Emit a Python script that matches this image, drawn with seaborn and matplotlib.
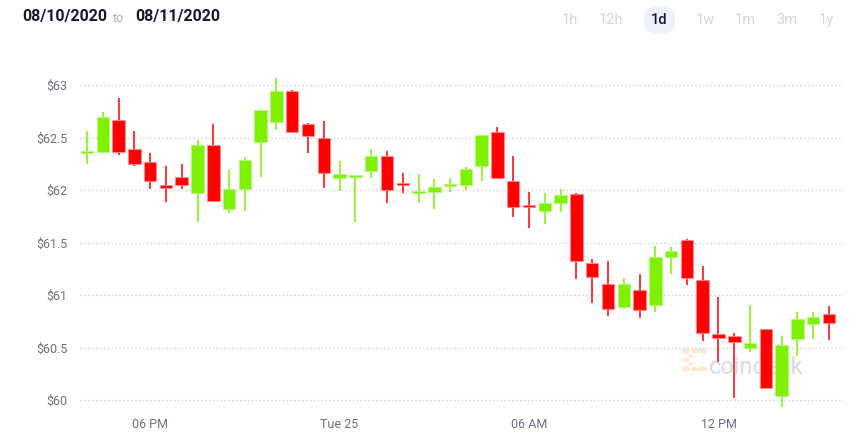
import matplotlib
matplotlib.use("Agg")
import matplotlib.pyplot as plt
import seaborn as sns
import numpy as np
import pandas as pd
from matplotlib.patches import FancyBboxPatch, Circle
from matplotlib.transforms import Affine2D

# ---- data (30-minute candles, 4 PM Aug 10 -> 3:30 PM Aug 11) ----
opens = [62.35, 62.365, 62.67, 62.387, 62.264, 62.044, 62.127, 61.968, 62.426, 61.815,
         62.013, 62.46, 62.648, 62.946, 62.629, 62.50, 62.114, 62.12, 62.178, 62.324,
         62.062, 61.975, 61.98, 62.035, 62.048, 62.225, 62.552, 62.086, 61.857, 61.80,
         61.873, 61.965, 61.308, 61.105, 60.883, 61.044, 60.905, 61.36, 61.52, 61.143,
         60.629, 60.606, 60.50, 60.676, 60.041, 60.578, 60.724, 60.822]
highs = [62.56, 62.745, 62.876, 62.56, 62.35, 62.23, 62.25, 62.476, 62.625, 62.19,
         62.31, 62.76, 63.07, 62.95, 62.64, 62.657, 62.28, 62.14, 62.387, 62.37,
         62.16, 62.152, 62.105, 62.114, 62.219, 62.524, 62.603, 62.324, 61.98, 61.968,
         62.01, 61.97, 61.34, 61.32, 61.16, 61.20, 61.47, 61.46, 61.533, 61.276,
         60.978, 60.635, 60.908, 60.68, 60.61, 60.835, 60.838, 60.90]
lows = [62.25, 62.35, 62.336, 62.23, 62.01, 61.889, 62.007, 61.70, 61.898, 61.78,
        61.80, 62.127, 62.571, 62.545, 62.35, 62.016, 61.99, 61.70, 62.11, 61.873,
        61.975, 61.879, 61.816, 61.98, 62.0, 62.089, 62.105, 61.74, 61.64, 61.68,
        61.787, 61.15, 60.927, 60.80, 60.864, 60.778, 60.84, 61.197, 61.10, 60.565,
        60.359, 60.022, 60.46, 60.115, 59.93, 60.42, 60.578, 60.571]
closes = [62.36, 62.70, 62.365, 62.245, 62.089, 62.019, 62.044, 62.43, 61.898, 62.01,
          62.286, 62.76, 62.946, 62.55, 62.51, 62.16, 62.152, 62.128, 62.327, 62.0,
          62.047, 61.982, 62.03, 62.057, 62.197, 62.524, 62.11, 61.835, 61.835, 61.873,
          61.952, 61.32, 61.175, 60.864, 61.108, 60.854, 61.365, 61.42, 61.162, 60.641,
          60.587, 60.552, 60.546, 60.117, 60.527, 60.775, 60.787, 60.736]

y_ticks = [60, 60.5, 61, 61.5, 62, 62.5, 63]
y_labels = ["$60", "$60.5", "$61", "$61.5", "$62", "$62.5", "$63"]
x_tick_pos = [4, 16, 28, 40]
x_labels = ["06 PM", "Tue 25", "06 AM", "12 PM"]
range_buttons = ["1h", "12h", "1d", "1w", "1m", "3m", "1y"]

df = pd.DataFrame({"open": opens, "high": highs, "low": lows, "close": closes})
df["idx"] = np.arange(len(df))
df["up"] = df["close"] >= df["open"]

GREEN = "#7ef000"
RED = "#ff0000"

sns.set_theme(style="white")
plt.rcParams["font.family"] = ["Roboto", "DejaVu Sans"]

W, H = 864, 437
fig = plt.figure(figsize=(W / 100, H / 100), dpi=100)
fig.patch.set_facecolor("white")

# pixel transform (origin top-left, y downwards)
pix = Affine2D().scale(1, -1).translate(0, H) + Affine2D()

ax_left, ax_right, ax_top, ax_bot = 80, 843, 60, 410
ax = fig.add_axes([ax_left / W, 1 - ax_bot / H, (ax_right - ax_left) / W, (ax_bot - ax_top) / H])
ax.set_facecolor("none")

cols = [GREEN if u else RED for u in df["up"]]

# wicks
ax.vlines(df["idx"], df["low"], df["high"], colors=cols, linewidth=1.3, alpha=0.85, zorder=2)
# bodies
bottoms = np.minimum(df["open"], df["close"])
heights = np.maximum(np.abs(df["close"] - df["open"]), 0.02)
ax.bar(df["idx"], heights, bottom=bottoms, width=0.79, color=cols,
       edgecolor=[(1, 0.55, 0.55, 0.8) if not u else (0.7, 0.97, 0.5, 0.8) for u in df["up"]],
       linewidth=0.8, zorder=3)

ax.set_xlim(-0.443, 47.887)
ax.set_ylim(60 - 10 / 105, 63 + 25 / 105)

ax.set_yticks(y_ticks)
ax.set_yticklabels(y_labels)
ax.set_xticks(x_tick_pos)
ax.set_xticklabels(x_labels)
ax.tick_params(axis="y", length=0, pad=9, labelsize=9, labelcolor="#6b7080")
ax.tick_params(axis="x", length=0, pad=6, labelsize=9, labelcolor="#6b7080")
for s in ax.spines.values():
    s.set_visible(False)
ax.grid(False)
for yt in y_ticks:
    ax.axhline(yt, color="#d3d8e4", linewidth=1.0, linestyle=(0, (1.2, 1.6)), zorder=1)

def fx(px):
    return px / W

def fy(py):
    return 1 - py / H

# watermark (behind candles)
wm_col = "#d9dbe2"
logo_col = "#fde9cc"
ax.text(fx(709), fy(368), "coindesk", transform=fig.transFigure, fontsize=17,
        color=wm_col, va="center", ha="left", zorder=0.5, clip_on=False)
for (cx, cy, r) in [(686, 351, 3.6), (686, 360, 3.2), (686, 369, 3.6), (695, 351, 3.2),
                    (703, 351, 3.6), (695, 369, 3.2), (703, 369, 3.6),
                    (691, 356, 1.8), (691, 364, 1.8)]:
    ax.add_artist(Circle((fx(cx), fy(cy)), r / W, transform=fig.transFigure,
                         color=logo_col, zorder=0.5, clip_on=False))

# header
fig.text(fx(22), fy(17), "08/10/2020", fontsize=11.5, fontweight="bold", color="#141a2e",
         va="center", ha="left")
fig.text(fx(113), fy(18), "to", fontsize=9, color="#a8adb8", va="center", ha="left")
fig.text(fx(135), fy(17), "08/11/2020", fontsize=11.5, fontweight="bold", color="#141a2e",
         va="center", ha="left")

btn_x = [570, 611, 659, 705, 745, 787, 826]
pill = FancyBboxPatch((644, 7), 31, 26,
                      boxstyle="round,pad=0,rounding_size=11",
                      transform=pix, facecolor="#eef1f7", edgecolor="none")
fig.patches.append(pill)
for lab, bx in zip(range_buttons, btn_x):
    active = lab == "1d"
    fig.text(fx(bx), fy(20), lab, fontsize=10.5, color="#0f1733" if active else "#d3d6df",
             fontweight="medium" if active else "normal", va="center", ha="center")

fig.savefig("out.png", dpi=100)
